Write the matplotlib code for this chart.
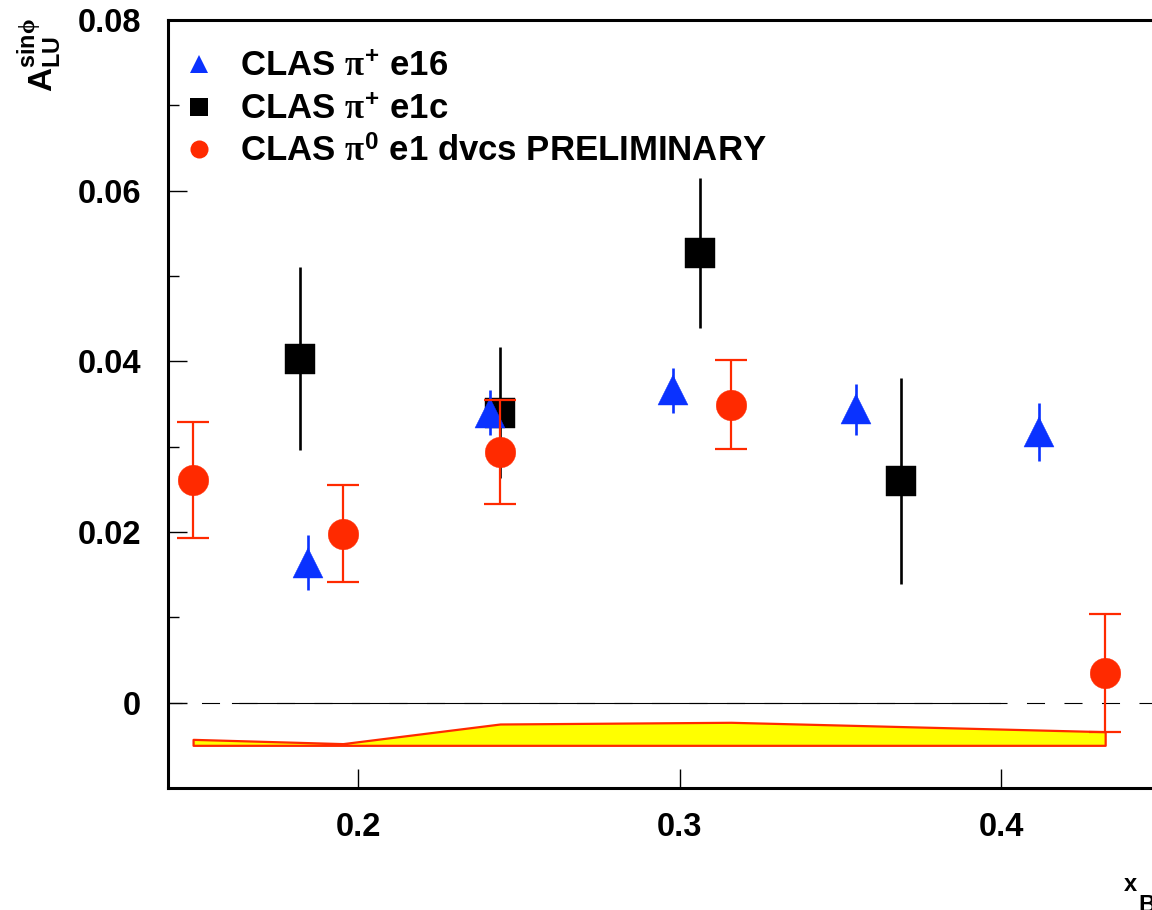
import matplotlib
matplotlib.use("Agg")
import matplotlib.pyplot as plt
from matplotlib.lines import Line2D

# ---------------- data ----------------
# CLAS pi0 e1 dvcs PRELIMINARY (red circles)
x_pi0 = [0.1487, 0.1953, 0.2442, 0.3160, 0.4324]
y_pi0 = [0.0261, 0.0198, 0.0294, 0.0349, 0.0035]
e_pi0 = [0.0068, 0.0057, 0.0061, 0.0052, 0.0069]
# systematic band (top edge; bottom edge is the baseline)
sys_top = [-0.0043, -0.0048, -0.0025, -0.0023, -0.0034]
sys_base = -0.0050

# CLAS pi+ e16 (blue triangles)
x_e16 = [0.1844, 0.2411, 0.2981, 0.3550, 0.4119]
y_e16 = [0.0164, 0.0340, 0.0366, 0.0344, 0.0317]
e_e16 = [0.0032, 0.0026, 0.0026, 0.0030, 0.0034]

# CLAS pi+ e1c (black squares)
x_e1c = [0.1819, 0.2443, 0.3064, 0.3688]
y_e1c = [0.0403, 0.0340, 0.0527, 0.0260]
e_e1c = [0.0107, 0.0077, 0.0088, 0.0121]

labels = [r"CLAS $\pi^{\mathbf{+}}$ e16",
          r"CLAS $\pi^{\mathbf{+}}$ e1c",
          r"CLAS $\pi^{\mathbf{0}}$ e1 dvcs PRELIMINARY"]
xticks = [0.2, 0.3, 0.4]
xticklabels = ["0.2", "0.3", "0.4"]
yticks = [0.0, 0.02, 0.04, 0.06, 0.08]
yticklabels = ["0", "0.02", "0.04", "0.06", "0.08"]
yminor = [-0.01, 0.01, 0.03, 0.05, 0.07]

RED = "#FF2A00"
BLUE = "#0A32FF"
BLACK = "#000000"

# ---------------- style ----------------
plt.rcParams["font.family"] = ["Liberation Sans", "DejaVu Sans"]
plt.rcParams["font.weight"] = "bold"
plt.rcParams["mathtext.fontset"] = "custom"
plt.rcParams["mathtext.rm"] = "Liberation Sans:bold"
plt.rcParams["mathtext.bf"] = "Liberation Sans:bold"
plt.rcParams["mathtext.it"] = "Liberation Serif"
plt.rcParams["mathtext.sf"] = "Liberation Sans:bold"
plt.rcParams["lines.scale_dashes"] = False

W, H = 1152, 910
fig = plt.figure(figsize=(W / 100, H / 100), dpi=100)

xmin, xmax = 0.1409, 0.46
ymin, ymax = -0.01, 0.08
px_per_x = 3215.0
left_px, top_px, bottom_px = 168, 20, 788
width_px = (xmax - xmin) * px_per_x
ax = fig.add_axes([left_px / W, (H - bottom_px) / H, width_px / W, (bottom_px - top_px) / H])
ax.set_xlim(xmin, xmax)
ax.set_ylim(ymin, ymax)

for s in ax.spines.values():
    s.set_linewidth(2.2)

ax.set_xticks(xticks)
ax.set_xticklabels(xticklabels)
ax.set_yticks(yticks)
ax.set_yticklabels(yticklabels)
ax.set_yticks(yminor, minor=True)
ax.tick_params(axis="both", which="both", direction="in", width=1.0, labelsize=23.5)
ax.tick_params(axis="x", which="major", length=13.5, pad=17)
ax.tick_params(axis="y", which="major", length=14, pad=19.5)
ax.tick_params(axis="y", which="minor", length=8)
for t in ax.get_xticklabels() + ax.get_yticklabels():
    t.set_fontweight("bold")

# zero line
ax.axhline(0.0, color="black", lw=0.8, linestyle=(2.9, (13, 14)), zorder=1)
ax.plot([0.1608, 0.3997], [0.0, 0.0], color="black", lw=0.8, zorder=1)

# systematic band
ax.fill_between(x_pi0, sys_base, sys_top, facecolor="#FFFF00", edgecolor=RED,
                linewidth=1.6, zorder=2)

# data
ax.errorbar(x_e1c, y_e1c, yerr=e_e1c, fmt="s", color=BLACK, ms=22, mec=BLACK, mew=0.3,
            elinewidth=1.9, capsize=0, zorder=3)
ax.errorbar(x_e16, y_e16, yerr=e_e16, fmt="^", color=BLUE, ms=22, mec=BLUE, mew=0.3,
            elinewidth=1.9, capsize=0, zorder=4)
eb_pi0 = ax.errorbar(x_pi0, y_pi0, yerr=e_pi0, fmt="o", color=RED, ms=22, mec=RED,
                     mew=0.3, elinewidth=1.6, capsize=11.5, capthick=1.6, zorder=5)
for cap in eb_pi0[1]:
    cap.set_markeredgewidth(1.6)

# legend
handles = [Line2D([], [], ls="none", marker="^", color=BLUE, ms=13.5, mew=0),
           Line2D([], [], ls="none", marker="s", color=BLACK, ms=13, mew=0),
           Line2D([], [], ls="none", marker="o", color=RED, ms=13, mew=0)]
leg = ax.legend(handles, labels, loc="upper left", bbox_to_anchor=(0.0136, 0.961),
                frameon=False, borderaxespad=0, borderpad=0, handlelength=1.0,
                handletextpad=0.67, labelspacing=0.28,
                prop={"family": "Liberation Sans", "weight": "bold", "size": 25})

# axis titles
fig.text(40 / W, 1 - 18 / H, r"$\mathbf{A}_{\mathbf{LU}}^{\mathbf{sin}\phi}$",
         rotation=90, ha="center", va="top", fontsize=24)
fig.text(1124 / W, 1 - 891 / H, "x", ha="left", va="baseline", fontsize=17,
         fontweight="bold")
fig.text(1138 / W, 1 - 912 / H, "B", ha="left", va="baseline", fontsize=17,
         fontweight="bold")

fig.savefig("out.png", dpi=100)
